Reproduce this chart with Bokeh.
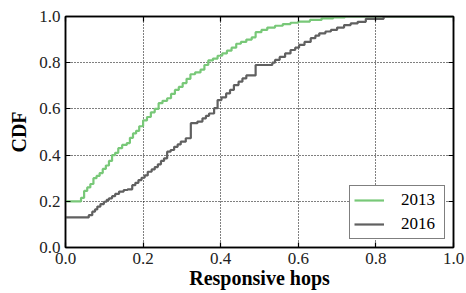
from bokeh.plotting import figure
from bokeh.models import (LinearAxis, FixedTicker, PrintfTickFormatter, Range1d,
                          CustomJSTickFormatter)
from bokeh.embed import file_html
from bokeh.resources import INLINE

# --- data ---
x_2013 = [0.000, 0.040, 0.048, 0.056, 0.064, 0.072, 0.080, 0.088, 0.096, 0.104,
          0.112, 0.120, 0.128, 0.136, 0.146, 0.158, 0.166, 0.174, 0.182, 0.190,
          0.200, 0.210, 0.220, 0.230, 0.240, 0.250, 0.262, 0.272, 0.282, 0.292,
          0.302, 0.312, 0.322, 0.334, 0.348, 0.358, 0.368, 0.380, 0.392, 0.404,
          0.416, 0.428, 0.440, 0.452, 0.466, 0.480, 0.490, 0.505, 0.520, 0.540,
          0.560, 0.580, 0.600, 0.630, 0.660, 0.690, 0.720, 1.000]
y_2013 = [0.200, 0.215, 0.245, 0.260, 0.275, 0.300, 0.310, 0.322, 0.340, 0.355,
          0.375, 0.400, 0.410, 0.430, 0.444, 0.452, 0.475, 0.494, 0.505, 0.525,
          0.550, 0.565, 0.585, 0.600, 0.625, 0.635, 0.646, 0.665, 0.682, 0.695,
          0.712, 0.730, 0.750, 0.758, 0.770, 0.790, 0.810, 0.818, 0.830, 0.840,
          0.852, 0.865, 0.882, 0.890, 0.900, 0.910, 0.932, 0.942, 0.952, 0.960,
          0.967, 0.973, 0.978, 0.985, 0.992, 0.996, 1.000, 1.000]

x_2016 = [0.000, 0.060, 0.069, 0.076, 0.082, 0.090, 0.099, 0.106, 0.112, 0.120,
          0.128, 0.138, 0.150, 0.160, 0.172, 0.180, 0.188, 0.196, 0.204, 0.212,
          0.222, 0.230, 0.238, 0.246, 0.254, 0.262, 0.271, 0.280, 0.289, 0.297,
          0.310, 0.323, 0.340, 0.353, 0.362, 0.370, 0.383, 0.392, 0.402, 0.414,
          0.424, 0.434, 0.446, 0.456, 0.466, 0.490, 0.533, 0.540, 0.552, 0.566,
          0.580, 0.592, 0.602, 0.616, 0.632, 0.644, 0.654, 0.670, 0.684, 0.700,
          0.718, 0.735, 0.753, 0.774, 0.820, 1.000]
y_2016 = [0.130, 0.140, 0.155, 0.165, 0.177, 0.188, 0.198, 0.206, 0.213, 0.222,
          0.232, 0.242, 0.249, 0.252, 0.270, 0.280, 0.292, 0.302, 0.312, 0.328,
          0.338, 0.348, 0.360, 0.375, 0.386, 0.415, 0.422, 0.436, 0.446, 0.458,
          0.473, 0.538, 0.545, 0.559, 0.570, 0.580, 0.603, 0.638, 0.650, 0.667,
          0.682, 0.703, 0.718, 0.732, 0.745, 0.790, 0.800, 0.812, 0.825, 0.840,
          0.855, 0.865, 0.877, 0.890, 0.906, 0.917, 0.927, 0.935, 0.942, 0.952,
          0.963, 0.970, 0.977, 0.990, 1.000, 1.000]

ticks = [0.0, 0.2, 0.4, 0.6, 0.8, 1.0]
x_title = "Responsive hops"
y_title = "CDF"

FONT = "Liberation Serif"

p = figure(width=466, height=293, output_backend="svg", toolbar_location=None,
           x_range=Range1d(0, 1), y_range=Range1d(0, 1),
           min_border_left=65, min_border_right=13, min_border_top=16,
           min_border_bottom=46)
p.background_fill_color = "white"
p.border_fill_color = "white"
p.outline_line_color = "black"
p.outline_line_width = 1.5

p.step(x_2013, y_2013, mode="after", line_color="#78c878", line_width=2.2,
       legend_label="2013")
p.step(x_2016, y_2016, mode="after", line_color="#606060", line_width=2.2,
       legend_label="2016")

for ax in (p.xaxis[0], p.yaxis[0]):
    ax.ticker = FixedTicker(ticks=ticks)
    ax.formatter = PrintfTickFormatter(format="%.1f")
    ax.major_tick_in = 5
    ax.major_tick_out = 0
    ax.minor_tick_line_color = None
    ax.axis_line_color = "black"
    ax.axis_line_width = 1.5
    ax.major_tick_line_width = 1.2
    ax.major_label_text_font = FONT
    ax.major_label_text_font_size = "17px"
    ax.major_label_text_color = "#222222"
    ax.axis_label_text_font = FONT
    ax.axis_label_text_font_size = "20px"
    ax.axis_label_text_font_style = "bold"
    ax.axis_label_text_color = "black"

p.xaxis.axis_label = x_title
p.yaxis.axis_label = y_title
p.xaxis.major_label_standoff = 5
p.xaxis.axis_label_standoff = 0
p.yaxis.major_label_standoff = 5
p.yaxis.axis_label_standoff = 6

for loc in ("above", "right"):
    a = LinearAxis(ticker=FixedTicker(ticks=ticks), major_tick_in=5,
                   major_tick_out=0, minor_tick_line_color=None,
                   formatter=CustomJSTickFormatter(code="return ''"),
                   major_label_standoff=0,
                   axis_line_color="black", axis_line_width=1.5,
                   major_tick_line_width=1.2)
    p.add_layout(a, loc)

p.xgrid.ticker = FixedTicker(ticks=ticks)
p.ygrid.ticker = FixedTicker(ticks=ticks)
p.grid.grid_line_color = "black"
p.grid.grid_line_dash = "1 2"
p.grid.grid_line_width = 1

p.legend.location = "bottom_right"
p.legend.margin = 8
p.legend.padding = 4
p.legend.spacing = 4
p.legend.glyph_width = 30
p.legend.glyph_height = 20
p.legend.label_height = 20
p.legend.label_width = 39
p.legend.label_standoff = 17
p.legend.label_text_font = FONT
p.legend.label_text_font_size = "17px"
p.legend.label_text_color = "black"
p.legend.border_line_color = "black"
p.legend.border_line_width = 1.5
p.legend.background_fill_alpha = 1

open("out.html", "w").write(file_html(p, INLINE))
